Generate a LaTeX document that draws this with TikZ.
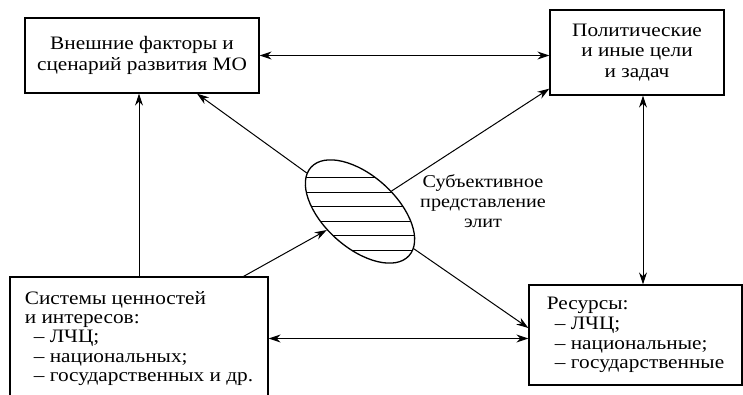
\documentclass[tikz,border=0pt]{standalone}
\usepackage{fontspec}
\setmainfont{Liberation Serif}[FakeStretch=1.12]
\usetikzlibrary{arrows.meta,shapes.geometric}
\begin{document}
\begin{tikzpicture}[x=1pt,y=-1pt,>={Stealth[length=12pt,width=8pt]},font=\fontsize{19}{20.5}\selectfont]
        \tikzstyle{block}=[draw,line width=1.3pt,inner sep=0pt]
        \tikzstyle{edge}=[draw,line width=1pt]
        \useasboundingbox (0,0) rectangle (743,395);
       \begin{scope}
         \node [block,minimum width=234pt,minimum height=75pt,align=center] (ext) at (142,55.5) {Внешние факторы и\\сценарий развития МО};
         \node [block,minimum width=174pt,minimum height=85pt,align=center] (goal) at (637,52.5) {Политические\\и иные цели\\и задач};
         \node [block,minimum width=258pt,minimum height=123pt,align=left,font=\fontsize{19}{19.2}\selectfont] (val) at (139,338.5) {Системы ценностей\\и интересов:\\\hspace*{9pt}– ЛЧЦ;\\\hspace*{9pt}– национальных;\\\hspace*{9pt}– государственных и др.};
         \node [block,minimum width=213pt,minimum height=100pt,align=left,font=\fontsize{19}{19.8}\selectfont] (res) at (635.5,335) {Ресурсы:\\\hspace*{8pt}– ЛЧЦ;\\\hspace*{8pt}– национальные;\\\hspace*{8pt}– государственные};
         \node [ellipse,draw,line width=1.3pt,inner sep=0pt,minimum width=132pt,minimum height=72pt,rotate=-42] (elite) at (360,211.5) {};
         \begin{scope}
           \clip [rotate around={-42:(360,211.5)}] (360,211.5) ellipse (66 and 36);
           \foreach \y in {178,192.4,206.8,221.2,235.6,250}
             \draw [line width=1pt] (290,\y) -- (430,\y);
         \end{scope}
         \node [align=center,font=\fontsize{18}{20}\selectfont] (lbl) at (483,201) {Субъективное\\представление\\элит};

         \path[edge,<->] (ext.east) -- (goal.west |- ext.east);
         \path[edge,<->] ([xshift=6pt]goal.south) -- ([xshift=6pt]goal.south |- res.north);
         \path[edge,<->] (val.east) -- (val.east -| res.west);
         \path[edge,->] (val.north) -- (val.north |- ext.south);
         \path[edge,->] (elite) -- ([xshift=55pt]ext.south);
         \path[edge,->] (elite) -- ([yshift=7pt]goal.south west);
         \path[edge,->] ([xshift=-25pt]val.north east) -- (elite);
         \path[edge,->] (elite) -- ([yshift=7pt]res.west);
        \end{scope}
      \end{tikzpicture}
\end{document}
